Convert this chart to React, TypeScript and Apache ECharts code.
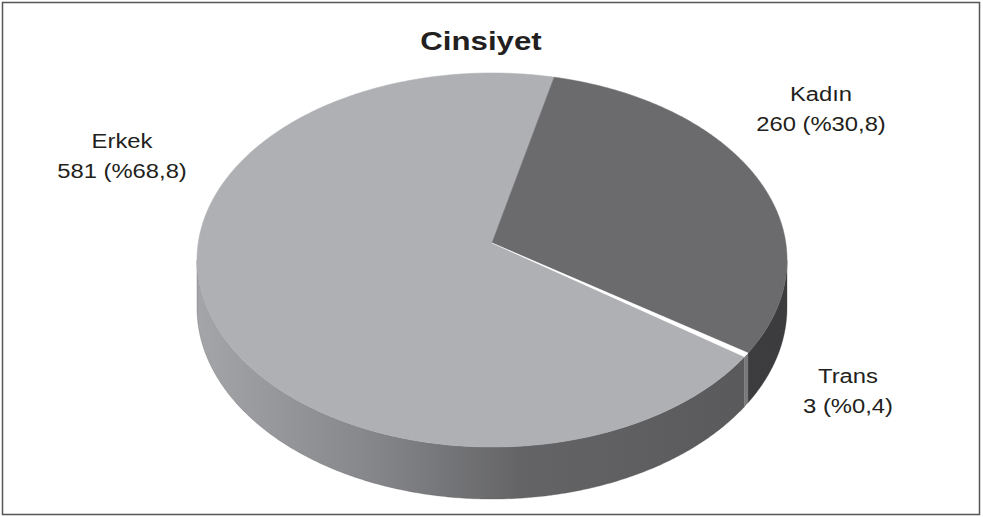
import React, { useEffect, useRef } from "react";
import * as echarts from "echarts";

// ---- data ----
const categories = ["Erkek", "Kadın", "Trans"];
const values = [581, 260, 3];
const chartTitle = "Cinsiyet";

// ---- layout / style (not data) ----
const TOP_COLORS = ["#afb0b3", "#6b6b6d", "#ffffff"];
const SIDE_COLORS = [
  [
    { offset: 0, color: "#a4a5a8" },
    { offset: 0.3, color: "#85868a" },
    { offset: 0.55, color: "#646466" },
    { offset: 1, color: "#58585a" },
  ],
  [
    { offset: 0, color: "#444446" },
    { offset: 1, color: "#3c3c3e" },
  ],
  [
    { offset: 0, color: "#7a7a7c" },
    { offset: 1, color: "#7a7a7c" },
  ],
];
const LABEL_POS = [
  [122, 156],
  [821, 109],
  [848, 391],
];
const TEXT_SCALE_X = 1.19;
const START_ANGLE = 125.5; // degrees clockwise from top for first item
const CX = 492;
const CY = 243;
const RX = 293.8;
const RY = 185.5;
const K = 0.0909; // perspective factor
const H = 47.3; // depth
const FONT = "Liberation Sans, Arial, Helvetica, sans-serif";

const total = values.reduce((a, b) => a + b, 0);
const starts: number[] = [];
{
  let acc = START_ANGLE;
  values.forEach((v) => {
    starts.push(acc);
    acc += (v / total) * 360;
  });
}

function rim(deg: number) {
  const p = (deg * Math.PI) / 180;
  const w = 1 + K * Math.cos(p);
  return [CX + (RX * Math.sin(p)) / w, CY - (RY * Math.cos(p)) / w, w];
}

function arcPoints(a1: number, a2: number) {
  const pts: number[][] = [];
  const n = Math.max(2, Math.ceil((a2 - a1) / 0.5) + 1);
  for (let j = 0; j < n; j++) {
    const a = a1 + ((a2 - a1) * j) / (n - 1);
    pts.push(rim(a));
  }
  return pts;
}

const VIS_LO = (Math.acos(-K) * 180) / Math.PI;
const VIS_HI = 360 - VIS_LO;

function fmtPct(v: number) {
  return ((v / total) * 100).toFixed(1).replace(".", ",");
}

export default function App() {
  const ref = useRef<HTMLDivElement>(null);
  useEffect(() => {
    document.body.style.margin = "0";
    if (!ref.current) return;
    const chart = echarts.init(ref.current, undefined, { renderer: "svg" });

    const renderSide = (params: any, api: any) => {
      const i = params.dataIndex;
      const v = api.value(0);
      const a1 = starts[i];
      const a2 = a1 + (v / total) * 360;
      const children: any[] = [];
      for (const off of [-360, 0, 360]) {
        const lo = Math.max(a1, VIS_LO + off);
        const hi = Math.min(a2, VIS_HI + off);
        if (hi > lo) {
          const top = arcPoints(lo, hi);
          const bottom = top.map((p) => [p[0], p[1] + H / p[2]]).reverse();
          const pts = top.map((p) => [p[0], p[1]]).concat(bottom);
          children.push({
            type: "polygon",
            shape: { points: pts },
            style: {
              fill: {
                type: "linear",
                x: CX - RX,
                y: 0,
                x2: CX + RX,
                y2: 0,
                global: true,
                colorStops: SIDE_COLORS[i],
              },
              stroke: SIDE_COLORS[i][SIDE_COLORS[i].length - 1].color,
              lineWidth: 0.3,
            },
          });
        }
      }
      return { type: "group", children };
    };

    const renderTop = (params: any, api: any) => {
      const i = params.dataIndex;
      const v = api.value(0);
      const a1 = starts[i];
      const a2 = a1 + (v / total) * 360;
      const pts = [[CX, CY]].concat(arcPoints(a1, a2).map((p) => [p[0], p[1]]));
      return {
        type: "group",
        children: [
          {
            type: "polygon",
            shape: { points: pts },
            style: { fill: TOP_COLORS[i], stroke: TOP_COLORS[i], lineWidth: 0.5 },
          },
          {
            type: "text",
            x: LABEL_POS[i][0],
            y: LABEL_POS[i][1],
            scaleX: TEXT_SCALE_X,
            style: {
              text: `${categories[i]}\n${v} (%${fmtPct(v)})`,
              fill: "#231f20",
              fontSize: 20,
              fontFamily: FONT,
              lineHeight: 30,
              align: "center",
              verticalAlign: "middle",
              textAlign: "center",
              textVerticalAlign: "middle",
            },
            z2: 10,
          },
        ],
      };
    };

    chart.setOption({
      animation: false,
      backgroundColor: "#ffffff",
      graphic: [
        {
          type: "rect",
          shape: { x: 2.5, y: 2.5, width: 977, height: 512 },
          style: { fill: "none", stroke: "#555555", lineWidth: 1.5 },
          z: 0,
        },
        {
          type: "text",
          x: 481,
          y: 41,
          scaleX: 1.2,
          style: {
            text: chartTitle,
            fill: "#231f20",
            font: `bold 26px ${FONT}`,
            textAlign: "center",
            textVerticalAlign: "middle",
            align: "center",
            verticalAlign: "middle",
          },
        },
      ],
      series: [
        {
          type: "custom",
          name: "side",
          coordinateSystem: "none",
          silent: true,
          z: 1,
          dimensions: ["value"],
          data: values.map((v) => [v]),
          renderItem: renderSide,
        },
        {
          type: "custom",
          name: "top",
          coordinateSystem: "none",
          silent: true,
          z: 2,
          dimensions: ["value"],
          data: values.map((v) => [v]),
          renderItem: renderTop,
        },
      ],
    });
    return () => chart.dispose();
  }, []);
  return <div ref={ref} style={{ width: 983, height: 517 }} />;
}
